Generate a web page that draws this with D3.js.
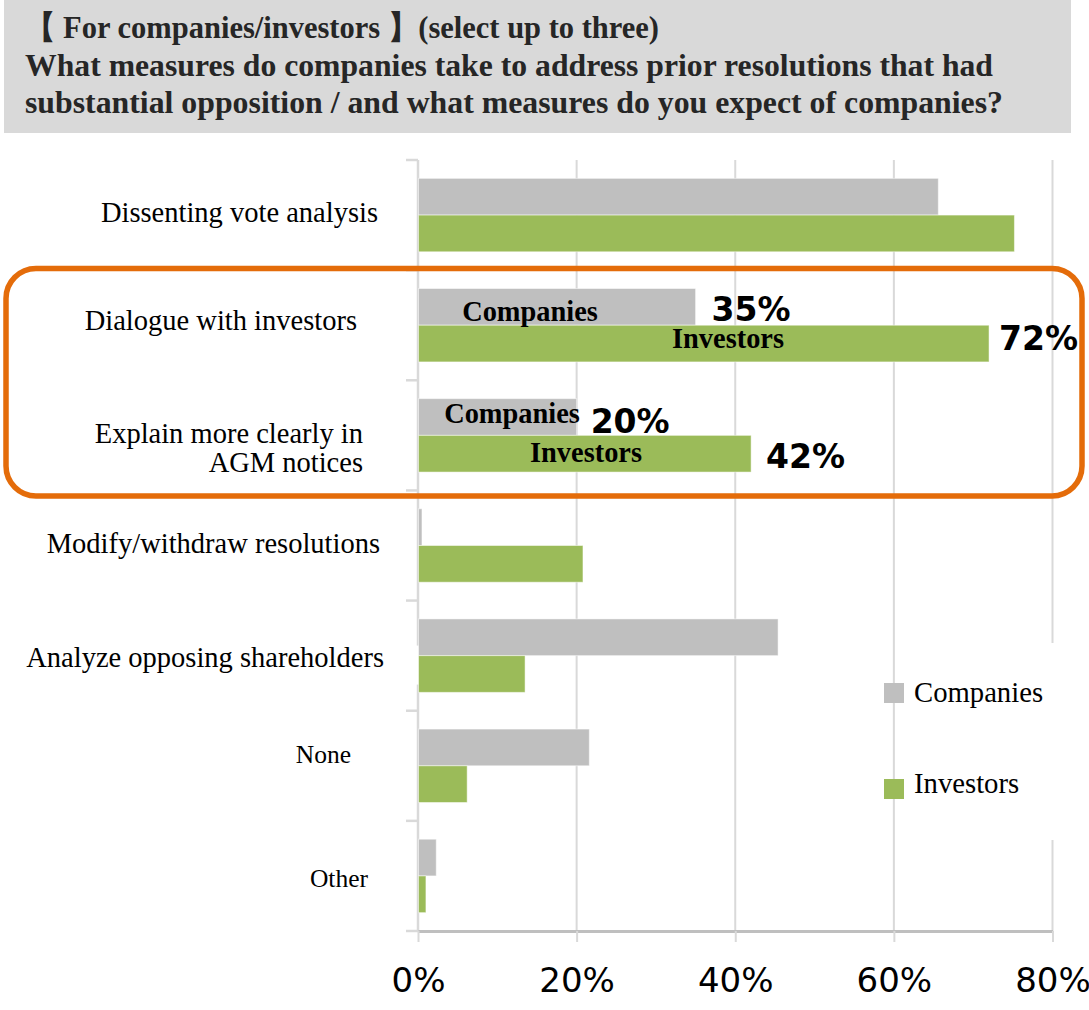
<!DOCTYPE html>
<html>
<head>
<meta charset="utf-8">
<script src="https://cdn.jsdelivr.net/npm/d3@7/dist/d3.min.js"></script>
<style>
  html, body { margin: 0; padding: 0; background: #fff; }
  svg { display: block; }
</style>
</head>
<body>
<svg id="chart" width="1089" height="1010"></svg>
<script>
// ---- data ----
const titleLines = [
  "【 For companies/investors 】(select up to three)",
  "What measures do companies take to address prior resolutions that had",
  "substantial opposition / and what measures do you expect of companies?"
];
const categories = [
  "Dissenting vote analysis",
  "Dialogue with investors",
  "Explain more clearly in\nAGM notices",
  "Modify/withdraw resolutions",
  "Analyze opposing shareholders",
  "None",
  "Other"
];
const seriesNames = ["Companies", "Investors"];
const companies = [65.6, 35, 20, 0.5, 45.4, 21.6, 2.3];
const investors = [75.2, 72, 42, 20.8, 13.5, 6.2, 1.0];
const xTicks = [0, 20, 40, 60, 80];
// categories highlighted with in-bar names and value callouts
const highlighted = ["Dialogue with investors", "Explain more clearly in\nAGM notices"];

// ---- layout / style ----
const colors = { Companies: "#bfbfbf", Investors: "#9bbb59" };
const serif = "'Liberation Serif', 'Times New Roman', serif";
const sans = "'DejaVu Sans', Verdana, sans-serif";
// right edge, baseline offset from band top, font size for each category label
const labelLayout = [
  { right: 378, dy: 62, size: 28.5 },
  { right: 357, dy: 60, size: 28.5 },
  { right: 363, dy: 62.5, size: 28.5 },
  { right: 380, dy: 62.5, size: 28.5 },
  { right: 384, dy: 66, size: 28.5 },
  { right: 351, dy: 52, size: 25.5 },
  { right: 368, dy: 66, size: 25.5 }
];

const svg = d3.select("#chart");

// title panel
svg.append("rect").attr("x", 4).attr("y", 0).attr("width", 1067).attr("height", 133).attr("fill", "#d9d9d9");
const titleWidths = [634, 968, 978];
const titleBase = [38, 76, 113];
titleLines.forEach((t, i) => {
  svg.append("text")
    .attr("x", 25).attr("y", titleBase[i])
    .attr("font-family", serif).attr("font-weight", "bold").attr("font-size", 32)
    .attr("fill", "#262626")
    .attr("textLength", titleWidths[i]).attr("lengthAdjust", "spacingAndGlyphs")
    .text(t);
});

// scales
const x = d3.scaleLinear().domain([0, 80]).range([418, 1052.5]);
const y0 = d3.scaleBand().domain(categories).range([160, 931]).padding(0);
const y1 = d3.scaleBand().domain(seriesNames).range([0, y0.bandwidth()]).paddingInner(0).paddingOuter(0.5);

// vertical gridlines
svg.append("g").selectAll("line").data(xTicks.filter(d => d > 0)).join("line")
  .attr("x1", d => x(d)).attr("x2", d => x(d))
  .attr("y1", 160).attr("y2", 931)
  .attr("stroke", "#d9d9d9").attr("stroke-width", 2);

// category axis (left) with band boundary ticks
svg.append("line").attr("x1", x(0)).attr("x2", x(0)).attr("y1", 160).attr("y2", 931)
  .attr("stroke", "#d9d9d9").attr("stroke-width", 2.5);
const bounds = categories.map(c => y0(c)).concat([y0.range()[1]]);
svg.append("g").selectAll("line").data(bounds).join("line")
  .attr("x1", x(0) - 12).attr("x2", x(0))
  .attr("y1", d => d).attr("y2", d => d)
  .attr("stroke", "#d9d9d9").attr("stroke-width", 2.5);

// category labels
categories.forEach((c, i) => {
  const L = labelLayout[i];
  const lines = c.split("\n");
  const g = svg.append("g");
  const t = g.append("text")
    .attr("font-family", serif).attr("font-size", L.size).attr("fill", "#000")
    .attr("text-anchor", "end");
  lines.forEach((ln, j) => {
    t.append("tspan").attr("x", L.right).attr("y", y0(c) + L.dy + j * 29).text(ln);
  });
  if (c === "Analyze opposing shareholders") {
    const b = t.node().getBBox();
    g.insert("rect", "text").attr("x", b.x).attr("y", b.y + 4).attr("width", x(0) + 1.5 - b.x).attr("height", b.height + 8).attr("fill", "#fff");
  }
});

// bars
const rows = categories.map((c, i) => ({ cat: c, Companies: companies[i], Investors: investors[i] }));
const groups = svg.append("g").selectAll("g").data(rows).join("g")
  .attr("transform", d => `translate(0,${y0(d.cat)})`);
groups.selectAll("rect").data(d => seriesNames.map(s => ({ s, v: d[s] }))).join("rect")
  .attr("x", x(0) + 0.5)
  .attr("y", d => y1(d.s))
  .attr("width", d => x(d.v) - x(0) - 0.5)
  .attr("height", y1.bandwidth())
  .attr("fill", d => colors[d.s])
  .attr("stroke", "#fff").attr("stroke-opacity", 0.5).attr("stroke-width", 1);

// bottom value axis
const xAxis = d3.axisBottom(x).tickValues(xTicks).tickFormat(d => d + "%").tickSize(11).tickSizeOuter(0);
const gx = svg.append("g").attr("transform", "translate(0,931)").call(xAxis);
gx.select(".domain").attr("stroke", "#bfbfbf").attr("stroke-width", 3);
gx.selectAll(".tick line").attr("stroke", "#d9d9d9").attr("stroke-width", 2);
gx.selectAll(".tick text").attr("font-family", sans).attr("font-size", 34).attr("fill", "#000")
  .attr("y", 61).attr("dy", 0);

// legend
svg.append("rect").attr("x", 906).attr("y", 643).attr("width", 156).attr("height", 197).attr("fill", "#fff");
const legendY = [683, 779];
const legendBase = [702, 793];
seriesNames.forEach((s, i) => {
  svg.append("rect").attr("x", 884).attr("y", legendY[i]).attr("width", 20).attr("height", 20).attr("fill", colors[s]);
  svg.append("text").attr("x", 914).attr("y", legendBase[i])
    .attr("font-family", serif).attr("font-size", 28.7).attr("fill", "#000").text(s);
});

// highlight frame
svg.append("rect").attr("x", 6).attr("y", 268.5).attr("width", 1076).attr("height", 227.5)
  .attr("rx", 30).attr("ry", 30)
  .attr("fill", "none").attr("stroke", "#e46c0a").attr("stroke-width", 5.5);

// in-bar series names and value callouts on highlighted categories
const inBarCenter = {
  "Dialogue with investors": { Companies: 530, Investors: 728 },
  "Explain more clearly in\nAGM notices": { Companies: 512, Investors: 586 }
};
const inBarBase = {
  "Dialogue with investors": { Companies: 32, Investors: 23 },
  "Explain more clearly in\nAGM notices": { Companies: 24, Investors: 27 }
};
const calloutGap = {
  "Dialogue with investors": { Companies: 16, Investors: 10 },
  "Explain more clearly in\nAGM notices": { Companies: 14, Investors: 15 }
};
const calloutBase = {
  "Dialogue with investors": { Companies: 32, Investors: 25 },
  "Explain more clearly in\nAGM notices": { Companies: 34, Investors: 33 }
};
highlighted.forEach(c => {
  const i = categories.indexOf(c);
  const vals = { Companies: companies[i], Investors: investors[i] };
  seriesNames.forEach(s => {
    const top = y0(c) + y1(s);
    svg.append("text")
      .attr("x", inBarCenter[c][s]).attr("y", top + inBarBase[c][s])
      .attr("text-anchor", "middle")
      .attr("font-family", serif).attr("font-weight", "bold").attr("font-size", 28.4).attr("fill", "#000")
      .text(s);
    svg.append("text")
      .attr("x", x(vals[s]) + calloutGap[c][s]).attr("y", top + calloutBase[c][s])
      .attr("font-family", sans).attr("font-weight", "bold").attr("font-size", 33).attr("fill", "#000")
      .text(d3.format(".0f")(vals[s]) + "%");
  });
});
</script>
</body>
</html>
